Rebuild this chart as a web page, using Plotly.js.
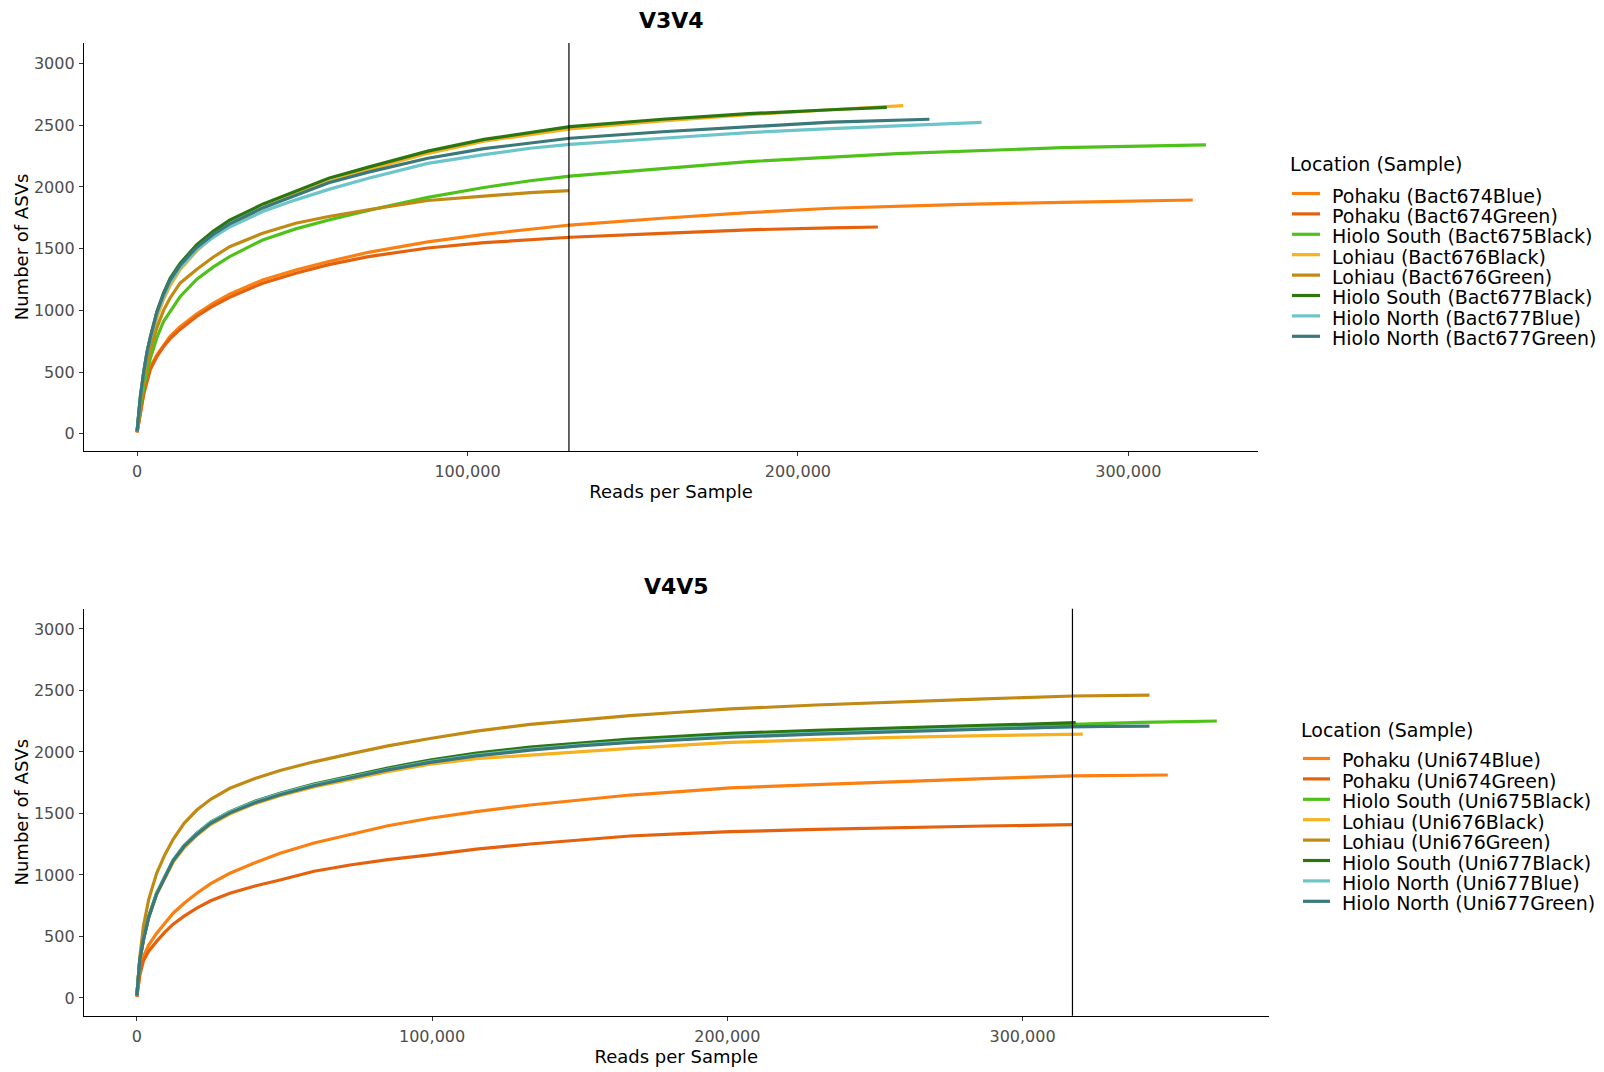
<!DOCTYPE html>
<html>
<head>
<meta charset="utf-8">
<script src="https://cdn.plot.ly/plotly-3.0.1.min.js"></script>
<style>
html, body { margin: 0; padding: 0; background: #ffffff; }
#chart { width: 1604px; height: 1072px; }
</style>
</head>
<body>
<div id="chart"></div>
<script>
// ================= DATA =================
const panelTitles = ["V3V4", "V4V5"];
const legendTitle = "Location (Sample)";
const xAxisTitle = "Reads per Sample";
const yAxisTitle = "Number of ASVs";
const xTickValues = [0, 100000, 200000, 300000];
const yTickValues = [0, 500, 1000, 1500, 2000, 2500, 3000];

const seriesColors = ["#FA8013", "#E4620E", "#4EC21A", "#F5B120", "#C18A14", "#2B7611", "#6CC5C9", "#3A7879"];

const v3v4Names = [
  "Pohaku (Bact674Blue)", "Pohaku (Bact674Green)", "Hiolo South (Bact675Black)", "Lohiau (Bact676Black)",
  "Lohiau (Bact676Green)", "Hiolo South (Bact677Black)", "Hiolo North (Bact677Blue)", "Hiolo North (Bact677Green)"
];
const v4v5Names = [
  "Pohaku (Uni674Blue)", "Pohaku (Uni674Green)", "Hiolo South (Uni675Black)", "Lohiau (Uni676Black)",
  "Lohiau (Uni676Green)", "Hiolo South (Uni677Black)", "Hiolo North (Uni677Blue)", "Hiolo North (Uni677Green)"
];

// rarefaction depth markers (vertical lines)
const v3v4Cutoff = 130700;
const v4v5Cutoff = 316900;

// ---- V3V4 curves: reads per sample / number of ASVs ----
const v3v4Bact674BlueReads  = [0,500,1000,2000,3000,4000,6000,8000,10000,13000,18000,23000,28000,38000,48000,58000,70000,88000,105000,119000,131000,159000,185000,210000,250000,280000,319500];
const v3v4Bact674BlueASVs   = [10,100,170,330,440,540,640,720,790,867,970,1057,1130,1246,1327,1395,1470,1555,1615,1657,1691,1746,1791,1827,1859,1875,1894];
const v3v4Bact674GreenReads = [0,500,1000,2000,3000,4000,6000,8000,10000,13000,18000,23000,28000,38000,48000,58000,70000,88000,105000,119000,131000,159000,185000,210000,224200];
const v3v4Bact674GreenASVs  = [10,100,165,320,425,520,625,705,770,845,950,1035,1105,1220,1300,1370,1435,1505,1548,1573,1592,1624,1652,1668,1675];
const v3v4Bact675BlackReads = [0,500,1000,2000,3000,4000,6000,8000,10000,13000,18000,23000,28000,38000,48000,58000,70000,88000,105000,119000,131000,159000,185000,230000,280000,323500];
const v3v4Bact675BlackASVs  = [15,130,220,380,510,610,780,910,990,1110,1250,1350,1435,1570,1660,1732,1810,1915,1995,2050,2088,2151,2205,2270,2318,2340];
const v3v4Bact676BlackReads = [0,500,1000,2000,3000,4000,6000,8000,10000,13000,18000,23000,28000,38000,48000,58000,70000,88000,105000,119000,131000,159000,185000,210000,231900];
const v3v4Bact676BlackASVs  = [20,180,280,470,620,740,940,1090,1200,1330,1480,1600,1690,1830,1940,2042,2140,2272,2370,2425,2470,2535,2585,2625,2658];
const v3v4Bact676GreenReads = [0,500,1000,2000,3000,4000,6000,8000,10000,13000,18000,23000,28000,38000,48000,58000,70000,88000,105000,119000,130700];
const v3v4Bact676GreenASVs  = [15,160,260,440,570,680,860,1000,1100,1220,1330,1430,1515,1624,1705,1760,1815,1890,1925,1953,1969];
const v3v4Bact677BlackReads = [0,500,1000,2000,3000,4000,6000,8000,10000,13000,18000,23000,28000,38000,48000,58000,70000,88000,105000,119000,131000,159000,185000,210000,226900];
const v3v4Bact677BlackASVs  = [20,200,300,500,660,780,990,1140,1260,1380,1530,1640,1730,1860,1965,2070,2160,2290,2385,2440,2488,2548,2593,2625,2645];
const v3v4Bact677BlueReads  = [0,500,1000,2000,3000,4000,6000,8000,10000,13000,18000,23000,28000,38000,48000,58000,70000,88000,105000,119000,131000,159000,185000,210000,230000,255600];
const v3v4Bact677BlueASVs   = [20,200,295,490,650,770,970,1110,1225,1345,1490,1590,1675,1800,1895,1980,2070,2191,2262,2313,2345,2394,2440,2472,2495,2523];
const v3v4Bact677GreenReads = [0,500,1000,2000,3000,4000,6000,8000,10000,13000,18000,23000,28000,38000,48000,58000,70000,88000,105000,119000,131000,159000,185000,210000,239800];
const v3v4Bact677GreenASVs  = [20,205,305,500,660,780,985,1130,1245,1365,1510,1615,1700,1830,1935,2034,2120,2232,2310,2358,2394,2447,2490,2525,2548];

// ---- V4V5 curves ----
const v4v5Uni674BlueReads  = [0,500,1000,2200,4000,6700,9500,12300,16000,20300,25000,31500,40000,48500,60000,72200,85000,99300,115000,133200,150000,167000,185000,201000,230000,257000,287000,317000,349200];
const v4v5Uni674BlueASVs   = [10,120,200,336,430,526,610,689,770,851,930,1014,1100,1176,1260,1330,1400,1461,1515,1569,1612,1650,1680,1708,1735,1759,1783,1805,1813];
const v4v5Uni674GreenReads = [0,500,1000,2200,4000,6700,9500,12300,16000,20300,25000,31500,40000,48500,60000,72200,85000,99300,115000,133200,150000,167000,185000,201000,230000,257000,287000,316900];
const v4v5Uni674GreenASVs  = [10,110,185,300,380,460,535,600,665,730,790,851,910,959,1030,1081,1125,1163,1210,1252,1287,1317,1337,1352,1370,1385,1398,1409];
const v4v5Uni675BlackReads = [0,500,1000,2200,4000,6700,9500,12300,16000,20300,25000,31500,40000,48500,60000,72200,85000,99300,115000,133200,150000,167000,185000,201000,230000,257000,287000,317000,340000,365800];
const v4v5Uni675BlackASVs  = [20,200,310,472,660,851,985,1115,1235,1335,1425,1510,1595,1660,1730,1795,1862,1925,1980,2030,2065,2095,2120,2140,2165,2185,2205,2225,2240,2252];
const v4v5Uni676BlackReads = [0,500,1000,2200,4000,6700,9500,12300,16000,20300,25000,31500,40000,48500,60000,72200,85000,99300,115000,133200,150000,167000,185000,201000,230000,257000,287000,320400];
const v4v5Uni676BlackASVs  = [20,190,300,465,650,840,975,1105,1220,1320,1410,1495,1580,1645,1715,1775,1840,1900,1945,1975,2005,2030,2055,2078,2100,2119,2133,2146];
const v4v5Uni676GreenReads = [0,500,1000,2200,4000,6700,9500,12300,16000,20300,25000,31500,40000,48500,60000,72200,85000,99300,115000,133200,150000,167000,185000,201000,230000,257000,287000,317000,343000];
const v4v5Uni676GreenASVs  = [15,190,330,580,800,1014,1165,1290,1420,1528,1615,1705,1785,1850,1920,1985,2050,2110,2170,2225,2262,2295,2325,2350,2382,2408,2432,2455,2463];
const v4v5Uni677BlackReads = [0,500,1000,2200,4000,6700,9500,12300,16000,20300,25000,31500,40000,48500,60000,72200,85000,99300,115000,133200,150000,167000,185000,201000,230000,257000,287000,318000];
const v4v5Uni677BlackASVs  = [20,200,310,472,660,851,990,1122,1240,1339,1430,1515,1600,1664,1740,1805,1870,1935,1990,2040,2075,2105,2130,2152,2175,2195,2218,2238];
const v4v5Uni677BlueReads  = [0,500,1000,2200,4000,6700,9500,12300,16000,20300,25000,31500,40000,48500,60000,72200,85000,99300,115000,133200,150000,167000,185000,201000,230000,257000,287000,317000,327000];
const v4v5Uni677BlueASVs   = [20,205,315,475,660,850,988,1120,1238,1337,1428,1512,1596,1660,1733,1797,1860,1922,1975,2022,2057,2085,2108,2127,2152,2172,2192,2203,2208];
const v4v5Uni677GreenReads = [0,500,1000,2200,4000,6700,9500,12300,16000,20300,25000,31500,40000,48500,60000,72200,85000,99300,115000,133200,150000,167000,185000,201000,230000,257000,287000,317000,343000];
const v4v5Uni677GreenASVs  = [20,200,310,470,655,845,982,1115,1232,1330,1420,1505,1588,1652,1725,1790,1855,1915,1968,2015,2050,2077,2100,2120,2145,2165,2188,2206,2211];

// ================= BUILD =================
const v3v4Series = [
  [v3v4Bact674BlueReads, v3v4Bact674BlueASVs], [v3v4Bact674GreenReads, v3v4Bact674GreenASVs],
  [v3v4Bact675BlackReads, v3v4Bact675BlackASVs], [v3v4Bact676BlackReads, v3v4Bact676BlackASVs],
  [v3v4Bact676GreenReads, v3v4Bact676GreenASVs], [v3v4Bact677BlackReads, v3v4Bact677BlackASVs],
  [v3v4Bact677BlueReads, v3v4Bact677BlueASVs], [v3v4Bact677GreenReads, v3v4Bact677GreenASVs]
];
const v4v5Series = [
  [v4v5Uni674BlueReads, v4v5Uni674BlueASVs], [v4v5Uni674GreenReads, v4v5Uni674GreenASVs],
  [v4v5Uni675BlackReads, v4v5Uni675BlackASVs], [v4v5Uni676BlackReads, v4v5Uni676BlackASVs],
  [v4v5Uni676GreenReads, v4v5Uni676GreenASVs], [v4v5Uni677BlackReads, v4v5Uni677BlackASVs],
  [v4v5Uni677BlueReads, v4v5Uni677BlueASVs], [v4v5Uni677GreenReads, v4v5Uni677GreenASVs]
];

const FONT = "DejaVu Sans, Liberation Sans, Arial, sans-serif";
const W = 1604, H = 1072;
const fx = function (px) { return px / W; };
const fy = function (px) { return 1 - px / H; };
const rowStep = 20.4;

const panels = [
  { names: v3v4Names, series: v3v4Series, cutoff: v3v4Cutoff, title: panelTitles[0],
    xPx: [84, 1258], yPx: [43, 451], xRange: [-16070, 339250], yRange: [-140, 3166],
    titleY: 20.5, legTitleX: 1288, legTitleY: 164, keyX: [1292, 1320], textX: 1330, rowY0: 195.5 },
  { names: v4v5Names, series: v4v5Series, cutoff: v4v5Cutoff, title: panelTitles[1],
    xPx: [84, 1268.5], yPx: [608.7, 1015.8], xRange: [-17900, 383300], yRange: [-145, 3165],
    titleY: 586, legTitleX: 1299, legTitleY: 730, keyX: [1303, 1330], textX: 1340, rowY0: 760.5 }
];

const traces = [];
const shapes = [];
const annotations = [];
const layout = {
  width: W, height: H, autosize: false,
  margin: { l: 0, r: 0, t: 0, b: 0, pad: 0 },
  paper_bgcolor: "#ffffff", plot_bgcolor: "#ffffff",
  showlegend: false,
  font: { family: FONT, color: "#000000" }
};

panels.forEach(function (p, i) {
  const sfx = i === 0 ? "" : String(i + 1);
  const xId = "x" + sfx, yId = "y" + sfx;

  p.series.forEach(function (s, k) {
    traces.push({
      type: "scatter", mode: "lines",
      x: s[0], y: s[1], name: p.names[k],
      xaxis: xId, yaxis: yId,
      line: { color: seriesColors[k], width: 3.2 },
      showlegend: false
    });
  });

  const axisCommon = {
    showgrid: false, zeroline: false, showline: true,
    linecolor: "#000000", linewidth: 1.2,
    ticks: "outside", ticklen: 4, tickwidth: 1, tickcolor: "#333333",
    tickfont: { family: FONT, size: 16, color: "#4D4D4D" },
    fixedrange: true
  };
  layout["xaxis" + sfx] = Object.assign({}, axisCommon, {
    domain: [fx(p.xPx[0]), fx(p.xPx[1])],
    range: p.xRange, anchor: yId,
    tickmode: "array", tickvals: xTickValues, tickformat: ",d",
    ticklabelstandoff: 2,
    title: { text: xAxisTitle, font: { family: FONT, size: 18, color: "#000000" }, standoff: 5 }
  });
  layout["yaxis" + sfx] = Object.assign({}, axisCommon, {
    domain: [fy(p.yPx[1]), fy(p.yPx[0])],
    range: p.yRange, anchor: xId,
    tickmode: "array", tickvals: yTickValues,
    ticklabelstandoff: 1,
    title: { text: yAxisTitle, font: { family: FONT, size: 18, color: "#000000" }, standoff: 0 }
  });

  // rarefaction depth marker
  shapes.push({
    type: "line", xref: xId, yref: yId + " domain",
    x0: p.cutoff, x1: p.cutoff, y0: 0, y1: 1,
    line: { color: "#000000", width: 1.2 }
  });

  // panel title
  annotations.push({
    xref: "paper", yref: "paper",
    x: fx((p.xPx[0] + p.xPx[1]) / 2), y: fy(p.titleY),
    xanchor: "center", yanchor: "middle", showarrow: false,
    text: "<b>" + p.title + "</b>",
    font: { family: FONT, size: 22, color: "#000000" }
  });

  // legend (ggplot style)
  annotations.push({
    xref: "paper", yref: "paper",
    x: fx(p.legTitleX), y: fy(p.legTitleY),
    xanchor: "left", yanchor: "middle", showarrow: false,
    text: legendTitle,
    font: { family: FONT, size: 19, color: "#000000" }
  });
  p.names.forEach(function (nm, k) {
    const rowY = p.rowY0 + k * rowStep;
    shapes.push({
      type: "line", xref: "paper", yref: "paper",
      x0: fx(p.keyX[0]), x1: fx(p.keyX[1]), y0: fy(rowY - 2), y1: fy(rowY - 2),
      line: { color: seriesColors[k], width: 3.2 }
    });
    annotations.push({
      xref: "paper", yref: "paper",
      x: fx(p.textX), y: fy(rowY),
      xanchor: "left", yanchor: "middle", showarrow: false,
      text: nm,
      font: { family: FONT, size: 19, color: "#000000" }
    });
  });
});

layout.shapes = shapes;
layout.annotations = annotations;

Plotly.newPlot("chart", traces, layout, { staticPlot: true, displayModeBar: false });
</script>
</body>
</html>
